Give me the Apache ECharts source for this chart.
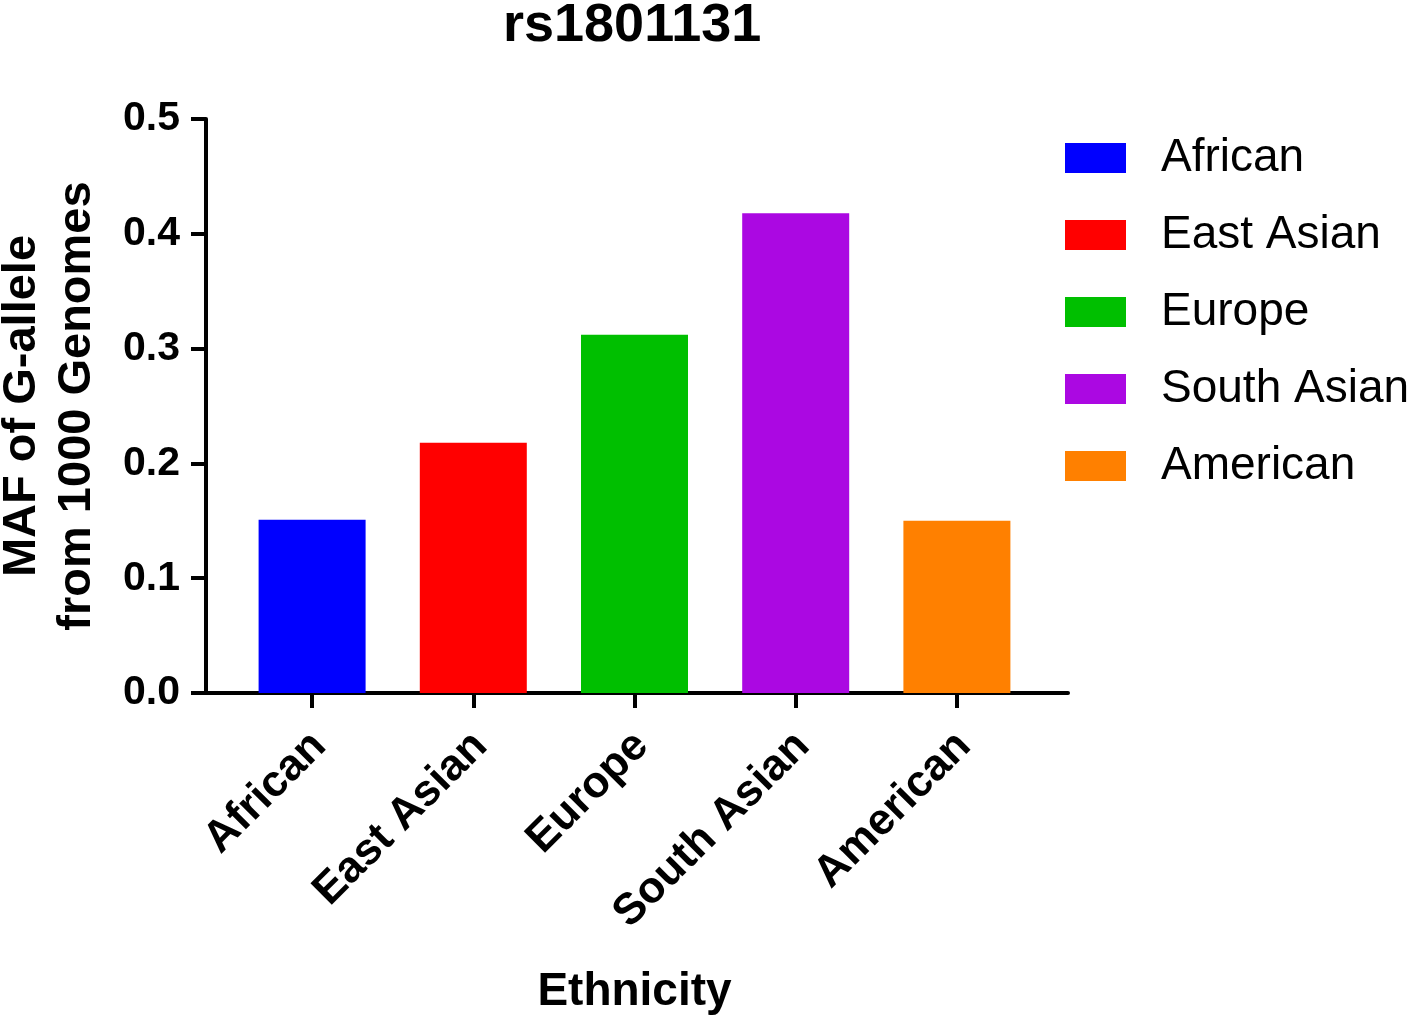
<!DOCTYPE html>
<html>
<head>
<meta charset="utf-8">
<script src="https://cdn.jsdelivr.net/npm/echarts@6/dist/echarts.min.js"></script>
<style>
html,body{margin:0;padding:0;background:#fff;}
#chart{width:1418px;height:1015px;}
</style>
</head>
<body>
<div id="chart"></div>
<script>
const categories = ['African', 'East Asian', 'Europe', 'South Asian', 'American'];
const mafValues = [0.151, 0.218, 0.312, 0.418, 0.150];
const barColors = ['#0000FF', '#FF0000', '#00BF00', '#AB08E2', '#FF8000'];
const yTicks = [0, 0.1, 0.2, 0.3, 0.4, 0.5];

const FONT = '"Liberation Sans", Arial, Helvetica, sans-serif';

const series = categories.map((name, i) => ({
  name: name,
  type: 'bar',
  xAxisIndex: 1,
  yAxisIndex: 1,
  stack: 'all',
  barWidth: 107,
  itemStyle: { color: barColors[i] },
  data: categories.map((c, j) => (j === i ? mafValues[i] : '-'))
}));

const chart = echarts.init(document.getElementById('chart'), null, { renderer: 'canvas' });
chart.setOption({
  animation: false,
  backgroundColor: '#ffffff',
  title: {
    text: 'rs1801131',
    left: 498,
    top: -6,
    textStyle: { fontFamily: FONT, fontSize: 54, fontWeight: 'bold', color: '#000' }
  },
  legend: {
    orient: 'vertical',
    left: 1065,
    top: 135,
    padding: 0,
    itemWidth: 61,
    itemHeight: 30,
    itemGap: 31,
    icon: 'rect',
    data: categories,
    textStyle: { fontFamily: FONT, fontSize: 46, color: '#000', padding: [0, 0, 0, 30] }
  },
  grid: [
    { left: 206, right: 350, top: 119, bottom: 322, containLabel: false, outerBoundsMode: 'none' },
    { left: 231.5, width: 806, top: 119, bottom: 322, containLabel: false, outerBoundsMode: 'none' }
  ],
  xAxis: [
    {
      type: 'value', gridIndex: 0, min: 0, max: 1,
      axisLine: { show: true, lineStyle: { color: '#000', width: 4 } },
      axisTick: { show: false }, axisLabel: { show: false }, splitLine: { show: false }
    },
    {
      type: 'category', gridIndex: 1, data: categories,
      axisLine: { show: false },
      axisTick: { show: true, alignWithLabel: true, length: 15, lineStyle: { color: '#000', width: 4 } },
      axisLabel: { rotate: 45, margin: 22, verticalAlign: 'top', padding: [0, 12, 0, 0],
        fontFamily: FONT, fontSize: 44, fontWeight: 'bold', color: '#000', interval: 0 },
      splitLine: { show: false },
      name: 'Ethnicity', nameLocation: 'middle', nameGap: 276,
      nameTextStyle: { fontFamily: FONT, fontSize: 46, fontWeight: 'bold', color: '#000' }
    }
  ],
  yAxis: [
    {
      type: 'value', gridIndex: 0, min: 0, max: 0.5, interval: 0.1,
      axisLine: { show: true, lineStyle: { color: '#000', width: 4 } },
      axisTick: { show: true, length: 15, lineStyle: { color: '#000', width: 4 } },
      axisLabel: { margin: 26, fontFamily: FONT, fontSize: 41, fontWeight: 'bold', color: '#000',
        formatter: v => v.toFixed(1) },
      splitLine: { show: false },
      name: 'MAF of G-allele\nfrom 1000 Genomes', nameLocation: 'middle', nameRotate: 90, nameGap: 101,
      nameTextStyle: { fontFamily: FONT, fontSize: 47, fontWeight: 'bold', color: '#000', lineHeight: 55, align: 'center' }
    },
    { type: 'value', gridIndex: 1, min: 0, max: 0.5, show: false }
  ],
  series: series
});
</script>
</body>
</html>
